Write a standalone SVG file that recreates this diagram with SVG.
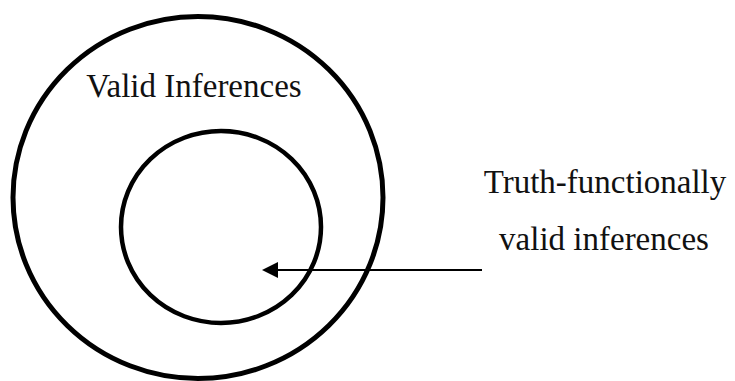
<svg xmlns="http://www.w3.org/2000/svg" width="735" height="381" viewBox="0 0 735 381">
<defs>
<style>
.ring{fill:none;stroke:#000}
.lbl{font-family:"Liberation Serif","Times New Roman",serif;font-size:33px;fill:#111;text-anchor:middle}
.conn{stroke:#000;stroke-width:2;fill:none}
.head{fill:#000}
</style>
</defs>
<g id="valid">
<ellipse class="ring" cx="198" cy="197.5" rx="185" ry="181" stroke-width="5"/>
<text class="lbl" x="194" y="97">Valid Inferences</text>
</g>
<g id="truth-functional">
<ellipse class="ring" cx="221" cy="227" rx="100" ry="96" stroke-width="4.5"/>
<text class="lbl" x="605" y="193">Truth-functionally</text>
<text class="lbl" x="604" y="250">valid inferences</text>
</g>
<g id="connectors">
<line class="conn" x1="482" y1="270" x2="275" y2="270"/>
<path class="head" d="M262,270 L278,262 L278,278 Z"/>
</g>
</svg>
